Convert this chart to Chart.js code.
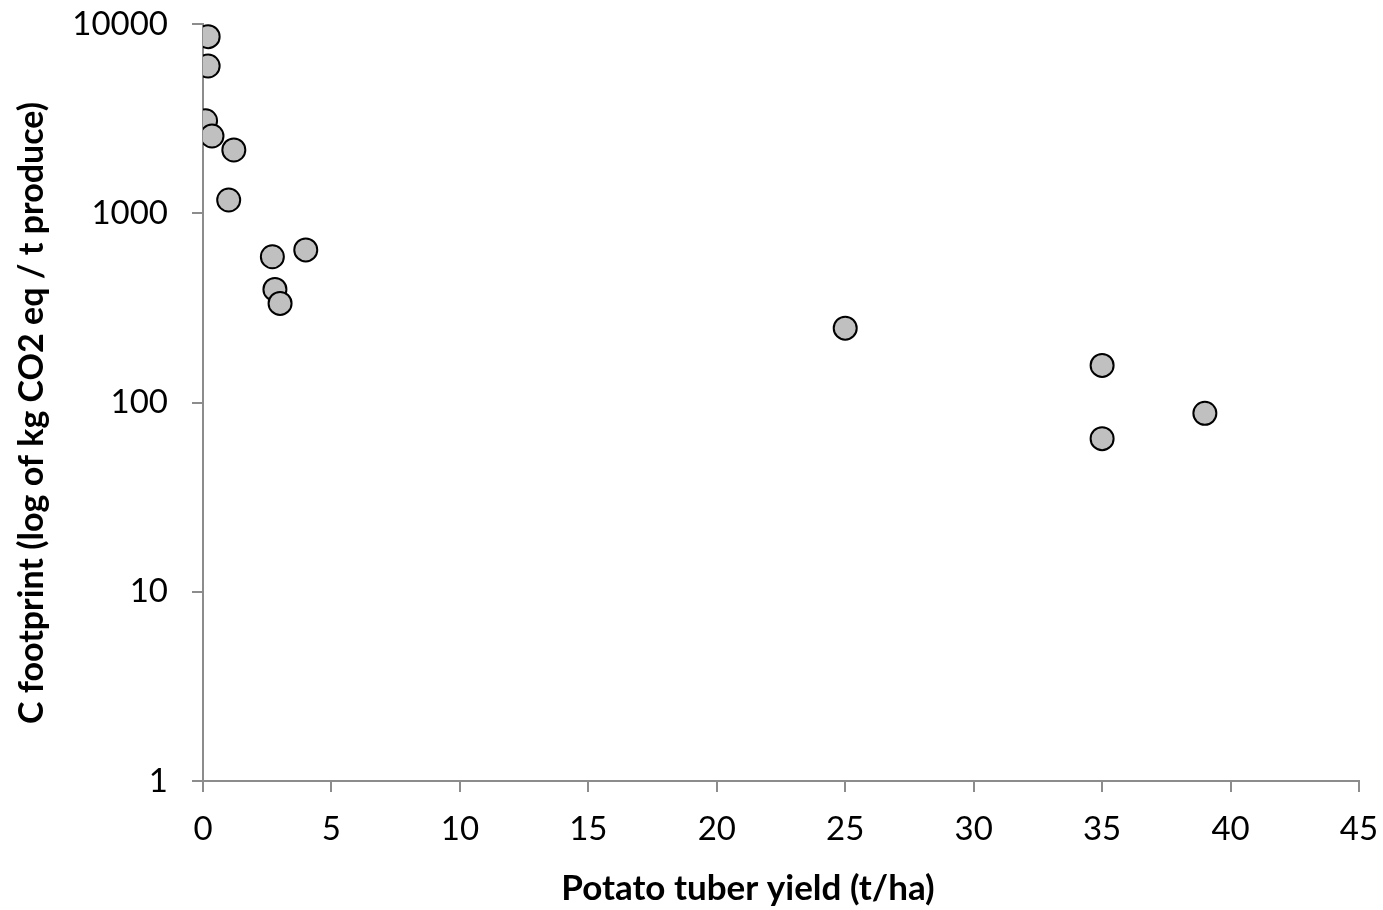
<!DOCTYPE html>
<html>
<head>
<meta charset="utf-8">
<title>Potato tuber yield vs C footprint</title>
<script src="https://cdn.jsdelivr.net/npm/chart.js@4/dist/chart.umd.min.js"></script>
<style>
  html, body { margin: 0; padding: 0; background: #ffffff; }
  #wrap { width: 1383px; height: 910px; position: relative; }
</style>
</head>
<body>
<div id="wrap"><canvas id="chart" width="1383" height="910"></canvas></div>
<script>
// Yield (t/ha) and carbon footprint (kg CO2 eq / t produce) for each study
const yieldValues = [0.2, 0.2, 0.1, 0.35, 1.2, 1.0, 2.7, 4.0, 2.8, 3.0, 25, 35, 35, 39];
const footprintValues = [8570, 6000, 3080, 2560, 2160, 1175, 589, 640, 396, 334, 247, 157, 64.4, 87.7];

// Axis ticks
const xTickStep = 5;
const xMin = 0, xMax = 45;
const yTickValues = [1, 10, 100, 1000, 10000];

// Axis titles
const xTitle = 'Potato tuber yield (t/ha)';
const yTitle = 'C footprint (log of kg CO2 eq / t produce)';

const points = yieldValues.map((x, i) => ({ x: x, y: footprintValues[i] }));

const FONT = "Lato, 'Open Sans', 'Liberation Sans', sans-serif";
const axisGray = '#8c8c8c';

// Keep label overhang from shrinking the plot area
function noOverhang(scale) {
  scale.paddingLeft = 0;
  scale.paddingRight = 0;
  scale.paddingTop = 0;
  scale.paddingBottom = 0;
}

// Axis titles are centred on the whole figure area rather than the plot box
const axisTitles = {
  id: 'axisTitles',
  afterDraw(chart) {
    const ctx = chart.ctx;
    ctx.save();
    ctx.fillStyle = '#000000';
    ctx.textAlign = 'center';
    ctx.textBaseline = 'alphabetic';

    ctx.font = "bold 35px " + FONT;
    ctx.fillText(xTitle, 748, 900);

    ctx.translate(43, 413);
    ctx.rotate(-Math.PI / 2);
    ctx.font = "bold 34px " + FONT;
    ctx.fillText(yTitle, 0, 0);
    ctx.restore();
  }
};

new Chart(document.getElementById('chart'), {
  type: 'scatter',
  data: {
    datasets: [{
      data: points,
      backgroundColor: '#c0c0c0',
      borderColor: '#000000',
      borderWidth: 2,
      pointRadius: 11.5,
      pointHoverRadius: 11.5
    }]
  },
  plugins: [axisTitles],
  options: {
    responsive: false,
    animation: false,
    events: [],
    layout: { padding: { top: 24, right: 24, left: 0, bottom: 0 } },
    plugins: { legend: { display: false }, tooltip: { enabled: false } },
    scales: {
      x: {
        type: 'linear',
        min: xMin,
        max: xMax,
        ticks: {
          stepSize: xTickStep,
          color: '#000000',
          font: { family: FONT, size: 33 },
          padding: 18
        },
        grid: {
          drawOnChartArea: false,
          drawTicks: true,
          tickLength: 11,
          color: axisGray,
          lineWidth: 2
        },
        border: { color: axisGray, width: 2 },
        title: { display: false },
        afterFit(scale) { scale.height = 129; noOverhang(scale); }
      },
      y: {
        type: 'logarithmic',
        min: yTickValues[0],
        max: yTickValues[yTickValues.length - 1],
        afterBuildTicks(scale) {
          scale.ticks = yTickValues.map(v => ({ value: v }));
        },
        ticks: {
          color: '#000000',
          font: { family: FONT, size: 33 },
          padding: 24,
          callback: (v) => String(v)
        },
        grid: {
          drawOnChartArea: false,
          drawTicks: true,
          tickLength: 11,
          color: axisGray,
          lineWidth: 2
        },
        border: { color: axisGray, width: 2 },
        title: { display: false },
        afterFit(scale) { scale.width = 203; noOverhang(scale); }
      }
    }
  }
});
</script>
</body>
</html>
